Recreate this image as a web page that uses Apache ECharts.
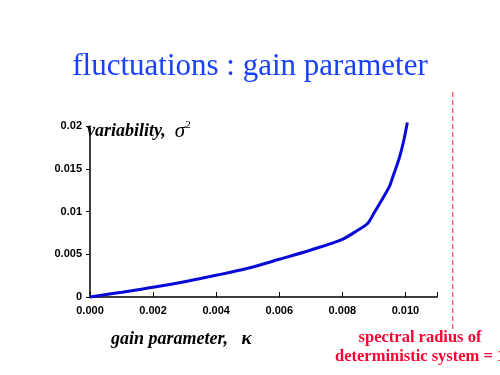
<!DOCTYPE html>
<html><head><meta charset="utf-8">
<script src="https://cdn.jsdelivr.net/npm/echarts@6/dist/echarts.min.js"></script>
<style>html,body{margin:0;padding:0;background:#fff}#c{width:500px;height:375px}</style>
</head><body><div id="c"></div>
<script>
const gain = [0, 0.001, 0.002, 0.003, 0.004, 0.005, 0.006, 0.007, 0.008, 0.0085, 0.0088, 0.009, 0.00925, 0.0095, 0.0096, 0.0098, 0.00995, 0.01006];
const variability = [0, 0.00055, 0.00113, 0.00179, 0.00254, 0.00336, 0.00441, 0.0055, 0.00675, 0.00784, 0.0086, 0.0098, 0.01135, 0.0130, 0.01407, 0.0162, 0.01836, 0.0204];
const xTicks = [0, 0.002, 0.004, 0.006, 0.008, 0.010];
const yTicks = [0, 0.005, 0.01, 0.015, 0.02];
const spectralRadiusGain = 0.0115;

const chart = echarts.init(document.getElementById('c'), null, {renderer: 'canvas'});
const pts = gain.map((g, i) => [g, variability[i]]);
chart.setOption({
  animation: false,
  backgroundColor: '#fff',
  title: {
    text: 'fluctuations : gain parameter', left: 'center', top: 46,
    textStyle: {fontFamily: 'Liberation Serif', fontWeight: 'normal', fontSize: 31, color: '#1a40ff'}
  },
  grid: {left: 90, right: 63, top: 126, bottom: 78},
  xAxis: {
    type: 'value', min: 0, max: 0.011, interval: 0.002,
    axisLine: {lineStyle: {color: '#000', width: 1.5}},
    axisTick: {inside: true, length: 5, lineStyle: {color: '#000'}},
    splitLine: {show: false},
    axisLabel: {
      fontFamily: 'Liberation Sans', fontWeight: 'bold', fontSize: 11, color: '#000', margin: 8,
      formatter: v => xTicks.some(t => Math.abs(t - v) < 1e-9) ? v.toFixed(3) : ''
    }
  },
  yAxis: {
    type: 'value', min: 0, max: 0.02, interval: 0.005,
    axisLine: {show: true, lineStyle: {color: '#000', width: 1.5}},
    axisTick: {show: true, length: 4, lineStyle: {color: '#000'}},
    splitLine: {show: false},
    axisLabel: {
      fontFamily: 'Liberation Sans', fontWeight: 'bold', fontSize: 11, color: '#000', margin: 8,
      formatter: v => yTicks.some(t => Math.abs(t - v) < 1e-9) ? String(+v.toFixed(3)) : ''
    }
  },
  series: [{
    type: 'line', data: pts, smooth: 0.3, symbol: 'none', clip: false,
    lineStyle: {color: '#0a0ad8', width: 3}
  }]
});

const sx = chart.convertToPixel({xAxisIndex: 0}, spectralRadiusGain);
chart.setOption({
  graphic: [
    {type: 'text', left: 87, top: 120, style: {
      text: '{a|variability,  }{s|σ}{p|2}',
      rich: {
        a: {fontFamily: 'Liberation Serif', fontStyle: 'italic', fontWeight: 'bold', fontSize: 18, fill: '#000'},
        s: {fontFamily: 'Liberation Serif', fontStyle: 'italic', fontSize: 21, fill: '#000'},
        p: {fontFamily: 'Liberation Serif', fontSize: 11, fill: '#000', verticalAlign: 'top', padding: [0,0,11,0]}
      }}},
    {type: 'text', left: 111, top: 330, style: {
      text: '{a|gain parameter,   }{k|κ}',
      rich: {
        a: {fontFamily: 'Liberation Serif', fontStyle: 'italic', fontWeight: 'bold', fontSize: 18, fill: '#000'},
        k: {fontFamily: 'Liberation Serif', fontStyle: 'italic', fontWeight: 'bold', fontSize: 19, fill: '#000'}
      }}},
    {type: 'line', shape: {x1: sx, y1: 92, x2: sx, y2: 332},
      style: {stroke: '#e8213f', lineWidth: 1, lineDash: [5, 3]}},
    {type: 'text', x: 420, y: 338, style: {
      text: 'spectral radius of', align: 'center', verticalAlign: 'middle',
      fontFamily: 'Liberation Serif', fontWeight: 'bold', fontSize: 16.5, fill: '#ff0033'}},
    {type: 'text', x: 335, y: 357, style: {
      text: 'deterministic system = 1', align: 'left', verticalAlign: 'middle',
      fontFamily: 'Liberation Serif', fontWeight: 'bold', fontSize: 16.5, fill: '#ff0033'}}
  ]
});
</script></body></html>
